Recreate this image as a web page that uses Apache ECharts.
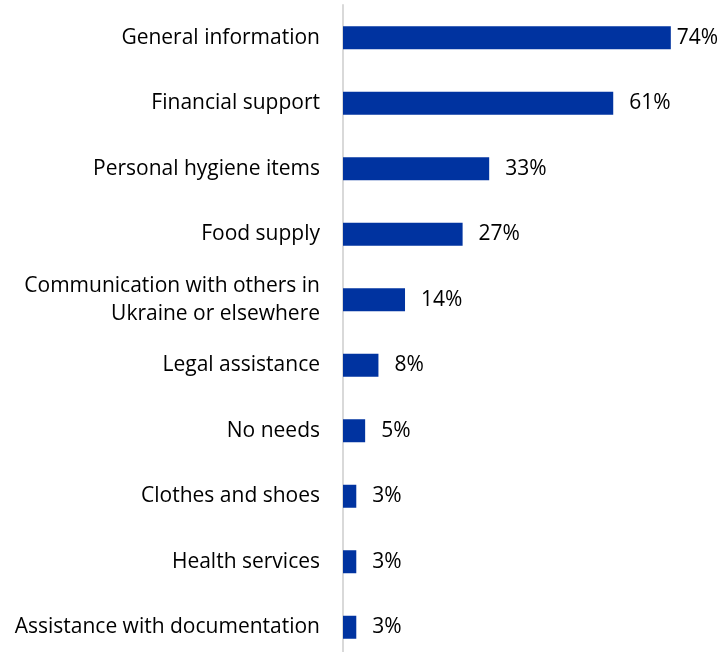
<!DOCTYPE html>
<html>
<head>
<meta charset="utf-8">
<script src="https://cdn.jsdelivr.net/npm/echarts@6/dist/echarts.min.js"></script>
<style>
  html, body { margin: 0; padding: 0; background: #fff; }
  #chart { width: 728px; height: 652px; }
</style>
</head>
<body>
<div id="chart"></div>
<script>
// Needs reported, share of respondents (%)
const categories = [
  'General information',
  'Financial support',
  'Personal hygiene items',
  'Food supply',
  'Communication with others in\nUkraine or elsewhere',
  'Legal assistance',
  'No needs',
  'Clothes and shoes',
  'Health services',
  'Assistance with documentation'
];
const values = [74, 61, 33, 27, 14, 8, 5, 3, 3, 3];

const FONT = '"Open Sans", Lato, sans-serif';

const chart = echarts.init(document.getElementById('chart'));
chart.setOption({
  animation: false,
  grid: {
    left: 343, top: 5, width: 443, height: 655,
    containLabel: false, outerBoundsMode: 'none'
  },
  xAxis: {
    type: 'value', min: 0, max: 100,
    show: false
  },
  yAxis: {
    type: 'category',
    inverse: true,
    data: categories,
    axisLine: { show: true, lineStyle: { color: '#d9d9d9', width: 2 } },
    axisTick: { show: false },
    axisLabel: {
      margin: 23, color: '#000', fontSize: 21, fontFamily: FONT,
      align: 'right', lineHeight: 28, padding: [6, 0, 0, 0]
    }
  },
  series: [{
    type: 'bar',
    data: values.map((v, i) => ({
      value: v,
      // the longest bar sits close to the edge, so its label hugs the bar
      label: { distance: i === 0 ? 6 : 16 }
    })),
    barWidth: 23,
    itemStyle: { color: '#0033a0' },
    label: {
      show: true, position: 'right', color: '#000',
      fontSize: 21, fontFamily: FONT, padding: [6, 0, 0, 0],
      formatter: p => p.value + '%'
    }
  }]
});
</script>
</body>
</html>
